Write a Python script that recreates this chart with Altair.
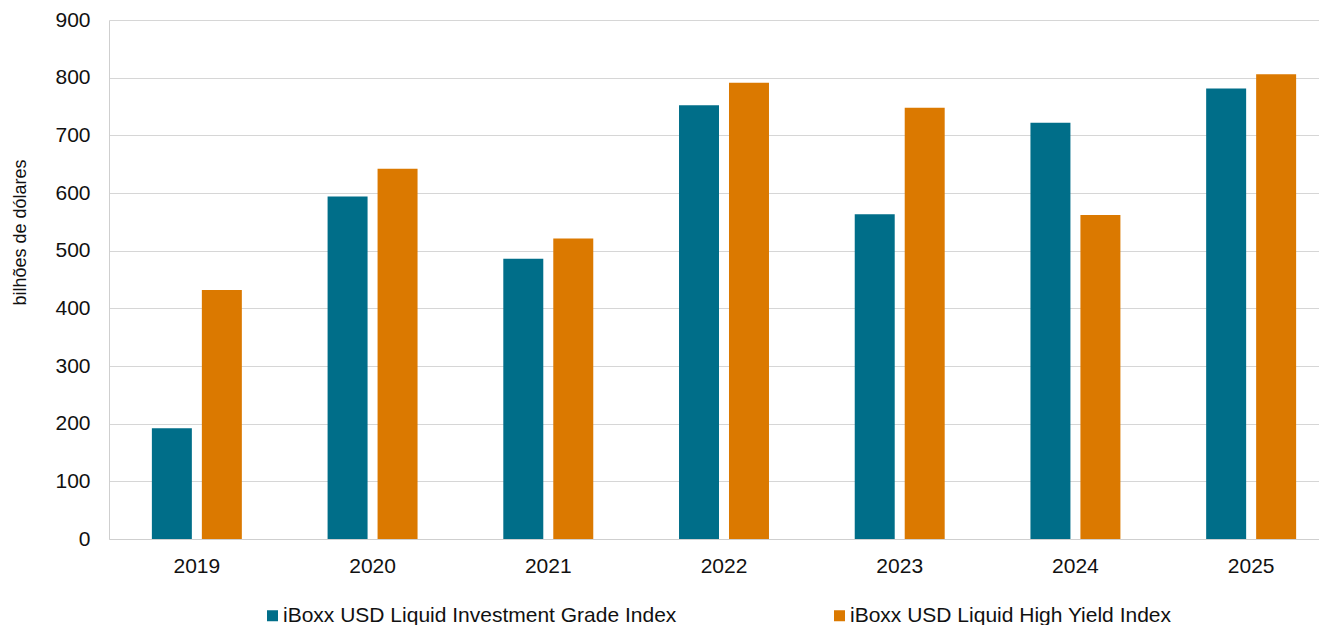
import altair as alt
import pandas as pd

years = ["2019", "2020", "2021", "2022", "2023", "2024", "2025"]
series_names = ["iBoxx USD Liquid Investment Grade Index", "iBoxx USD Liquid High Yield Index"]
ig_values = [192, 594, 486, 752, 563, 722, 781]
hy_values = [432, 642, 521, 791, 748, 562, 806]
colors = ["#006E89", "#DB7900"]

rows = []
for y, v in zip(years, ig_values):
    rows.append({"ano": y, "serie": series_names[0], "valor": v})
for y, v in zip(years, hy_values):
    rows.append({"ano": y, "serie": series_names[1], "valor": v})
df = pd.DataFrame(rows)

FONT = "Liberation Sans"

chart = alt.Chart(df).mark_bar().encode(
    x=alt.X("ano:N", sort=years,
            scale=alt.Scale(range=[0, 1230], paddingInner=0.488, paddingOuter=0.244),
            axis=alt.Axis(title=None, labelAngle=0, labelFontSize=21, labelFont=FONT,
                          labelColor="#111111", labelPadding=16, ticks=False,
                          domainColor="#CFCFCF", domainWidth=1, grid=False)),
    xOffset=alt.XOffset("serie:N", sort=series_names,
                        scale=alt.Scale(paddingInner=0.2, paddingOuter=0)),
    y=alt.Y("valor:Q",
            scale=alt.Scale(domain=[0, 900], nice=False),
            axis=alt.Axis(title="bilhões de dólares", values=list(range(0, 901, 100)),
                          labelFontSize=21, labelFont=FONT, labelColor="#111111",
                          labelPadding=19, ticks=False, domainColor="#CFCFCF",
                          gridColor="#D6D6D6", gridWidth=1,
                          titleFont=FONT, titleFontSize=18, titleFontWeight="normal",
                          titleColor="#111111", titleAngle=270, titleX=-89, titleY=212,
                          titleAlign="center", titleBaseline="middle")),
    color=alt.Color("serie:N", sort=series_names,
                    scale=alt.Scale(domain=series_names, range=colors),
                    legend=alt.Legend(title=None, orient="none", legendX=153, legendY=585,
                                      direction="horizontal", columns=2, columnPadding=152,
                                      symbolType="square", symbolSize=121, symbolStrokeWidth=0,
                                      labelFont=FONT, labelFontSize=21, labelColor="#111111",
                                      labelOffset=0, labelLimit=700, padding=0)),
).properties(
    width=1210, height=519,
    padding={"left": 101, "top": 12, "right": 0, "bottom": 86},
    autosize=alt.AutoSizeParams(type="none"),
).configure_view(stroke=None)

chart.save("out.html", embed_options={"renderer": "svg", "actions": False})
